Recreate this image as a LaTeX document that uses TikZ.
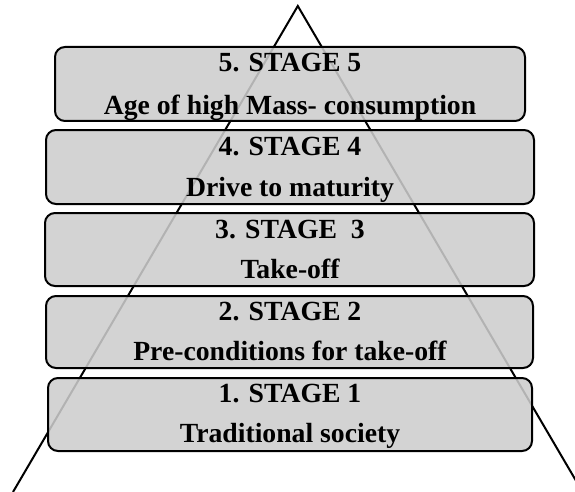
\documentclass[tikz,border=0pt]{standalone}
\usepackage{fontspec}
\setmainfont{Liberation Serif}
\begin{document}
\begin{tikzpicture}[x=1pt,y=-1pt,
  stagebox/.style={draw=black, line width=2pt, rounded corners=10pt,
    fill={rgb,255:red,205;green,205;blue,205}, fill opacity=0.87, inner sep=0pt},
  stagetext/.style={anchor=base, inner sep=0pt, font=\fontsize{27.7}{40}\selectfont\bfseries},
  sideline/.style={draw=black, line width=2pt}]
\useasboundingbox (0,0) rectangle (575,492);
\clip (0,0) rectangle (575,492);
\coordinate (apex) at (297.8,6);
\coordinate (bl) at (13,492);
\coordinate (br) at (582.6,492);
\draw[sideline] (bl) -- (apex) -- (br);
% boxes
\node[stagebox, minimum width=470pt, minimum height=74pt] (b5) at (290,84) {};
\node[stagebox, minimum width=488pt, minimum height=74pt] (b4) at (290,167) {};
\node[stagebox, minimum width=489pt, minimum height=73pt] (b3) at (289.5,249.5) {};
\node[stagebox, minimum width=487pt, minimum height=72pt] (b2) at (289.5,332) {};
\node[stagebox, minimum width=484pt, minimum height=73pt] (b1) at (290,414.5) {};
% texts
\node[stagetext] (t5a) at (290,72) {5. STAGE 5};
\node[stagetext] (t5b) at (290,114) {Age of high Mass- consumption};
\node[stagetext] (t4a) at (290,155) {4. STAGE 4};
\node[stagetext] (t4b) at (290,196) {Drive to maturity};
\node[stagetext] (t3a) at (290,238) {3. STAGE\ \ 3};
\node[stagetext] (t3b) at (290,278) {Take-off};
\node[stagetext] (t2a) at (290,320.7) {2. STAGE 2};
\node[stagetext] (t2b) at (290,360) {Pre-conditions for take-off};
\node[stagetext] (t1a) at (290,402.7) {1. STAGE 1};
\node[stagetext] (t1b) at (290,442.7) {Traditional society};
\end{tikzpicture}
\end{document}
